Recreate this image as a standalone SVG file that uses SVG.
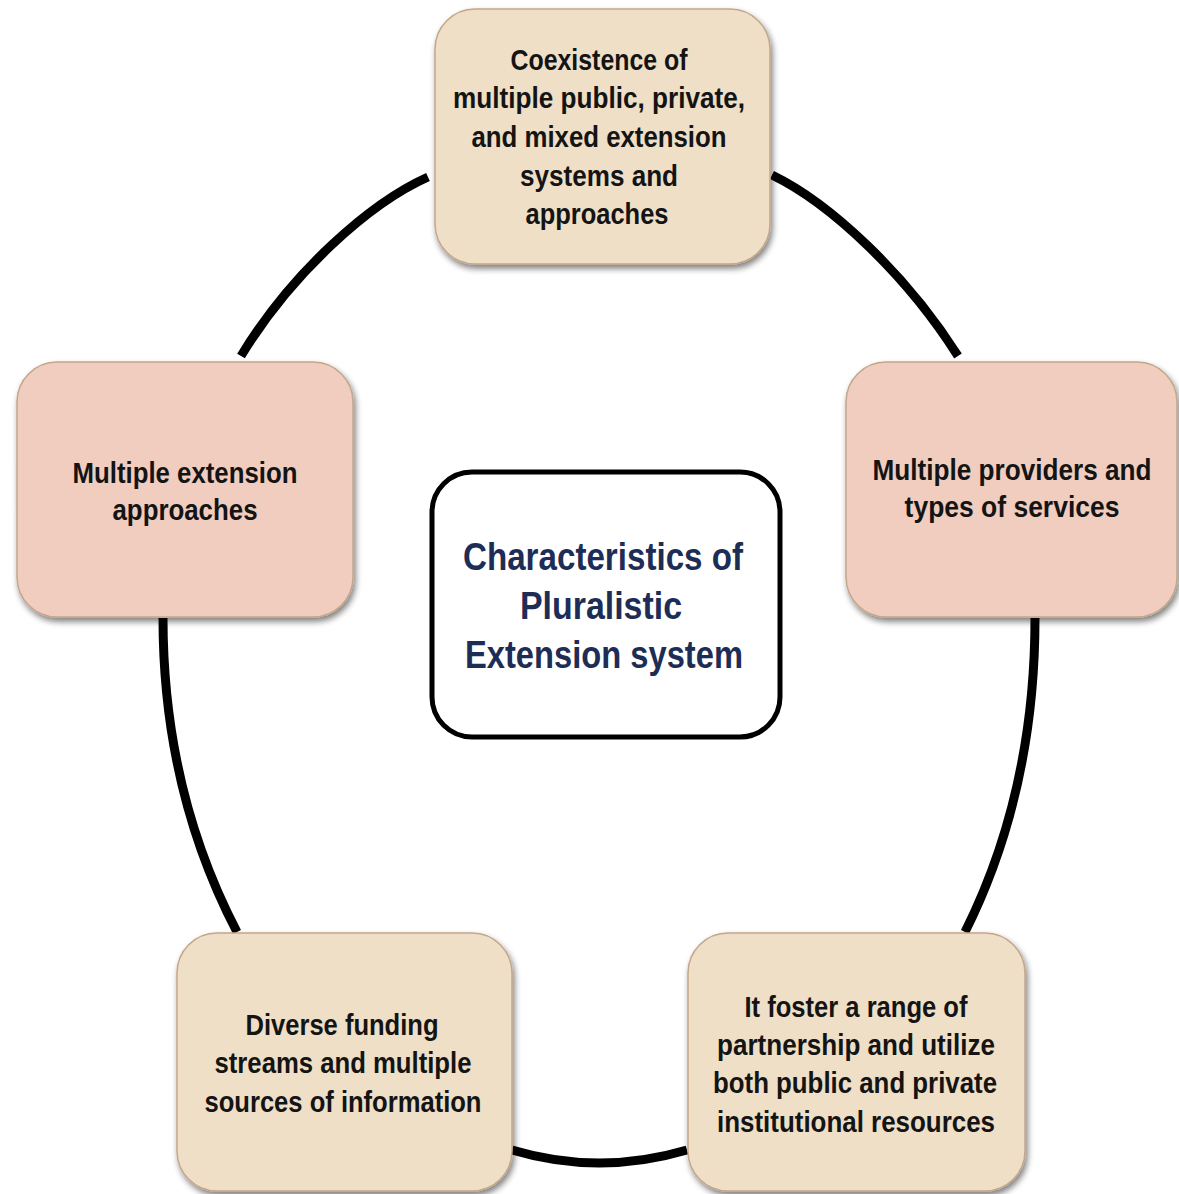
<svg xmlns="http://www.w3.org/2000/svg" width="1179" height="1194" viewBox="0 0 1179 1194">
<style>
.box{stroke:#c4a68a;stroke-width:1.5}
.beige{fill:#eedfc6}
.pink{fill:#f0cdbf}
.t{font-family:"Liberation Sans Narrow","Liberation Sans",Arial,sans-serif;font-weight:bold;font-size:30px;fill:#141414;text-anchor:middle}
.c{font-family:"Liberation Sans Narrow","Liberation Sans",Arial,sans-serif;font-weight:bold;font-size:39px;fill:#1d2d55;text-anchor:middle}
.arc{fill:none;stroke:#000;stroke-width:9;stroke-linecap:butt}
</style>
<defs>
<filter id="sh" x="-10%" y="-10%" width="125%" height="125%">
<feGaussianBlur in="SourceAlpha" stdDeviation="3"/>
<feOffset dx="2" dy="4" result="b"/>
<feComponentTransfer><feFuncA type="linear" slope="0.5"/></feComponentTransfer>
<feMerge><feMergeNode/><feMergeNode in="SourceGraphic"/></feMerge>
</filter>
</defs>
<rect width="1179" height="1194" fill="#ffffff"/>
<g id="connectors">
<path class="arc" d="M428 177 C370 203,292 272,241 356"/>
<path class="arc" d="M772 175 C830 203,906 274,958 356"/>
<path class="arc" d="M163 618 C163 740,190 842,237 932"/>
<path class="arc" d="M1035 618 C1035 740,1010 842,965 932"/>
<path class="arc" d="M512 1150 Q599 1176 687 1150"/>
</g>
<g id="node-top">
<rect class="box beige" x="435" y="9" width="335" height="255" rx="40" filter="url(#sh)"/>
<text class="t" x="599" y="70" textLength="177" lengthAdjust="spacingAndGlyphs">Coexistence of</text>
<text class="t" x="599" y="108" textLength="292" lengthAdjust="spacingAndGlyphs">multiple public, private,</text>
<text class="t" x="599" y="147" textLength="255" lengthAdjust="spacingAndGlyphs">and mixed extension</text>
<text class="t" x="599" y="186" textLength="158" lengthAdjust="spacingAndGlyphs">systems and</text>
<text class="t" x="597" y="224" textLength="143" lengthAdjust="spacingAndGlyphs">approaches</text>
</g>
<g id="node-left">
<rect class="box pink" x="17" y="362" width="336" height="255" rx="40" filter="url(#sh)"/>
<text class="t" x="185" y="483" textLength="225" lengthAdjust="spacingAndGlyphs">Multiple extension</text>
<text class="t" x="185" y="520" textLength="145" lengthAdjust="spacingAndGlyphs">approaches</text>
</g>
<g id="node-right">
<rect class="box pink" x="846" y="362" width="331" height="255" rx="40" filter="url(#sh)"/>
<text class="t" transform="translate(1012 480) scale(0.82 1)" x="0" y="0" textLength="340" lengthAdjust="spacingAndGlyphs">Multiple providers and</text>
<text class="t" transform="translate(1012 517) scale(0.82 1)" x="0" y="0" textLength="262" lengthAdjust="spacingAndGlyphs">types of services</text>
</g>
<g id="node-center">
<rect x="432" y="472" width="348" height="265" rx="40" fill="#ffffff" stroke="#000" stroke-width="5"/>
<text class="c" x="603" y="570" textLength="280" lengthAdjust="spacingAndGlyphs">Characteristics of</text>
<text class="c" x="601" y="619" textLength="162" lengthAdjust="spacingAndGlyphs">Pluralistic</text>
<text class="c" x="604" y="668" textLength="278" lengthAdjust="spacingAndGlyphs">Extension system</text>
</g>
<g id="node-bottom-left">
<rect class="box beige" x="177" y="933" width="335" height="258" rx="40" filter="url(#sh)"/>
<text class="t" x="342" y="1035" textLength="193" lengthAdjust="spacingAndGlyphs">Diverse funding</text>
<text class="t" x="343" y="1073" textLength="257" lengthAdjust="spacingAndGlyphs">streams and multiple</text>
<text class="t" x="343" y="1112" textLength="277" lengthAdjust="spacingAndGlyphs">sources of information</text>
</g>
<g id="node-bottom-right">
<rect class="box beige" x="688" y="933" width="337" height="258" rx="40" filter="url(#sh)"/>
<text class="t" x="856" y="1017" textLength="223" lengthAdjust="spacingAndGlyphs">It foster a range of</text>
<text class="t" x="856" y="1055" textLength="278" lengthAdjust="spacingAndGlyphs">partnership and utilize</text>
<text class="t" x="855" y="1093" textLength="284" lengthAdjust="spacingAndGlyphs">both public and private</text>
<text class="t" x="856" y="1132" textLength="278" lengthAdjust="spacingAndGlyphs">institutional resources</text>
</g>
</svg>
